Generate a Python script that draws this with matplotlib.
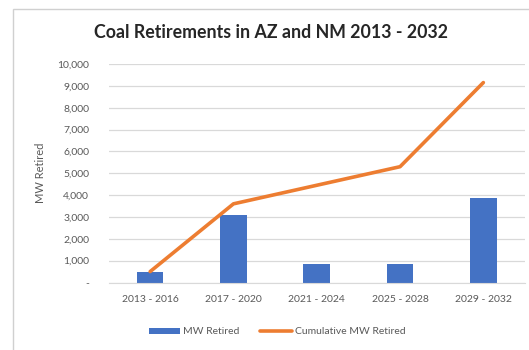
import matplotlib
matplotlib.use("Agg")
import matplotlib.pyplot as plt
from matplotlib.patches import Rectangle
from matplotlib.ticker import FuncFormatter

periods = ["2013 - 2016", "2017 - 2020", "2021 - 2024", "2025 - 2028", "2029 - 2032"]
mw_retired = [500, 3100, 850, 850, 3850]
cumulative_mw = [500, 3600, 4450, 5300, 9150]

BLUE = "#4472C4"
ORANGE = "#ED7D31"
GRID = "#D9D9D9"
TEXT = "#595959"

plt.rcParams["font.family"] = ["Lato", "DejaVu Sans"]

fig = plt.figure(figsize=(5.29, 3.5), dpi=100)
fig.patch.set_facecolor("white")

# chart frame
fig.patches.append(Rectangle((13 / 529, -0.05), 1.1, 1 - 9 / 350 + 0.05,
                             transform=fig.transFigure, fill=False,
                             edgecolor="#D0D0D0", linewidth=1.0))

ax = fig.add_axes([108.5 / 529, 1 - 282.5 / 350, 416.5 / 529, (282.5 - 64) / 350])
x = list(range(len(periods)))
bars = ax.bar(x, mw_retired, width=0.32, color=BLUE, label="MW Retired", zorder=2)
line, = ax.plot(x, cumulative_mw, color=ORANGE, linewidth=2.6,
                label="Cumulative MW Retired", solid_capstyle="round", zorder=3)

ax.set_xlim(-0.5, len(periods) - 0.5)
ax.set_ylim(0, 10000)
ax.set_yticks(range(0, 10001, 1000))
ax.yaxis.set_major_formatter(FuncFormatter(lambda v, p: "-" if v == 0 else f"{int(v):,}"))
ax.set_xticks(x)
ax.set_xticklabels(periods)
ax.grid(axis="y", color=GRID, linewidth=0.9, zorder=0)
for s in ["top", "right", "left"]:
    ax.spines[s].set_visible(False)
ax.spines["bottom"].set_color(GRID)
ax.tick_params(axis="both", length=0, colors=TEXT, labelsize=7.5)
ax.tick_params(axis="y", pad=14)
ax.tick_params(axis="x", pad=9)

fig.text(40 / 529, 1 - 173 / 350, "MW Retired", rotation=90, ha="center", va="center",
         color=TEXT, fontsize=8)
fig.text(271 / 529, 1 - 33 / 350, "Coal Retirements in AZ and NM 2013 - 2032",
         ha="center", va="center", fontsize=12.8, fontweight="bold", color="#262626")

leg = fig.legend([bars, line], ["MW Retired", "Cumulative MW Retired"],
                 loc="center", bbox_to_anchor=(277 / 529, 1 - 332 / 350), ncol=2,
                 frameon=False, fontsize=7.5, handlelength=3.0, handleheight=0.5,
                 columnspacing=2.0, handletextpad=0.3)
for t in leg.get_texts():
    t.set_color(TEXT)

fig.savefig("out.png", dpi=100, facecolor="white")
